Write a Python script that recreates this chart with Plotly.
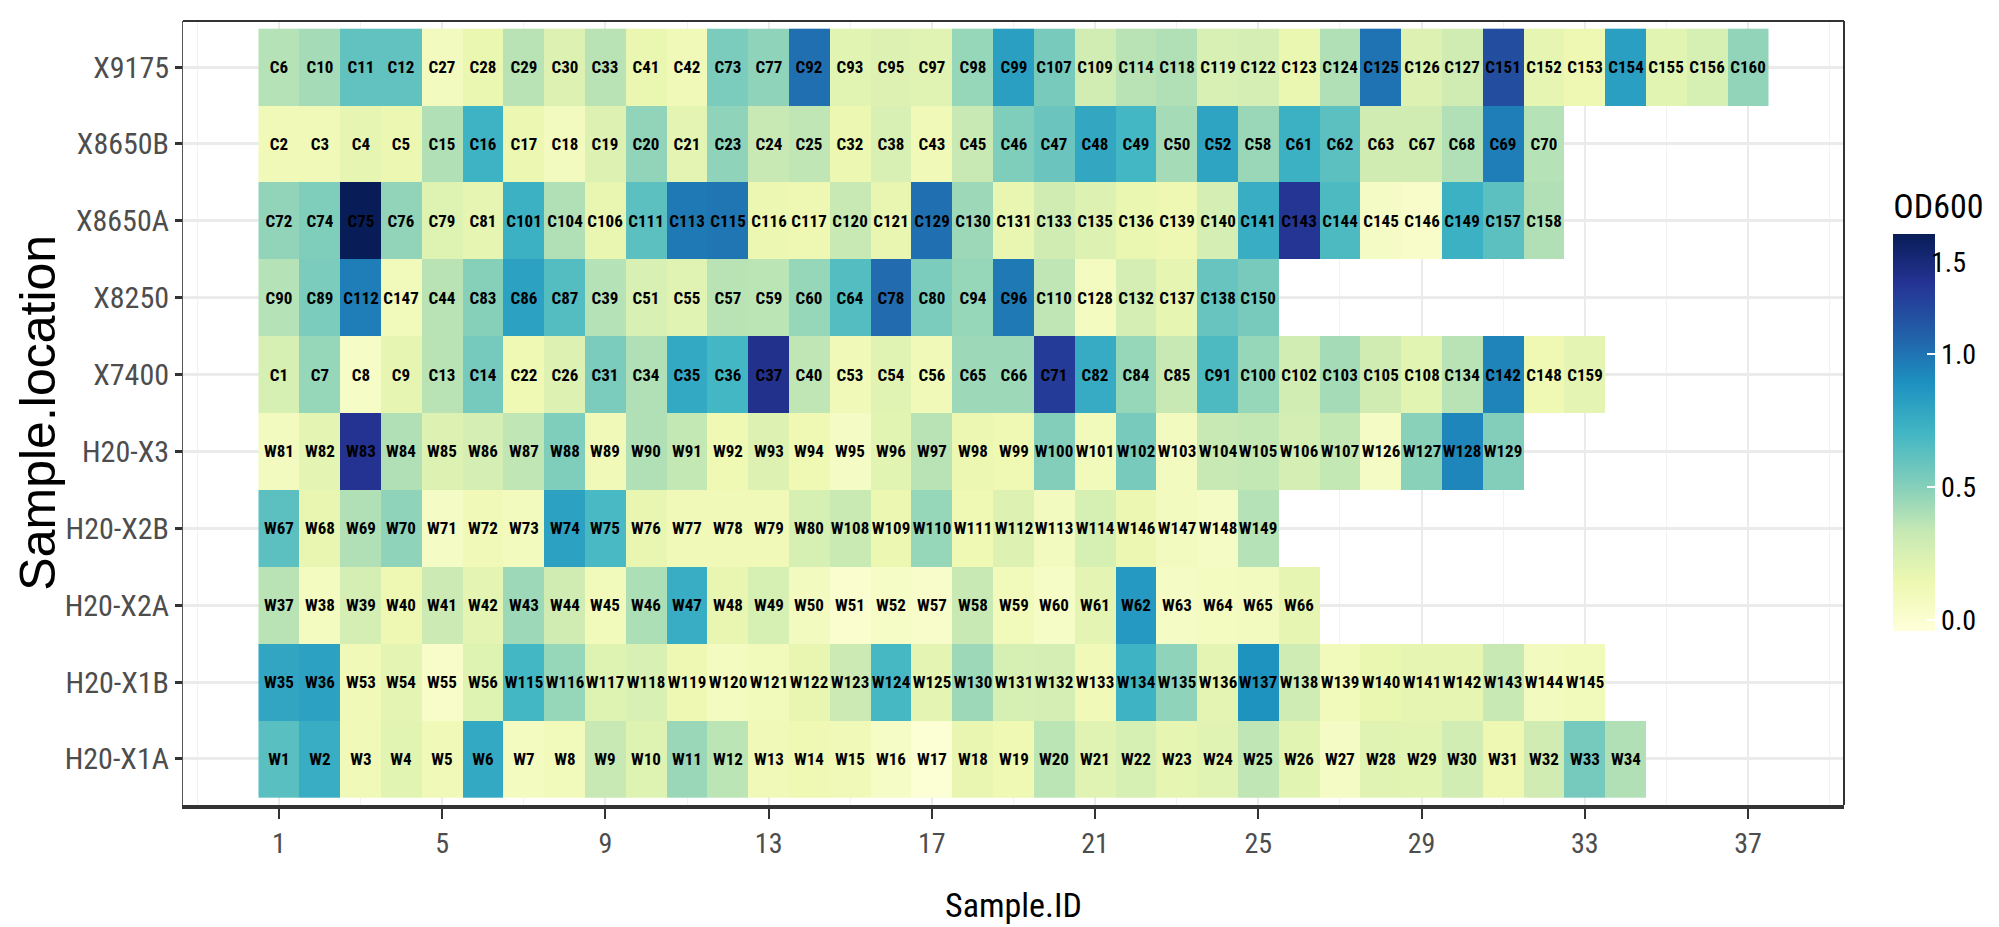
import plotly.graph_objects as go

# ---------------- data ----------------
locations = ["H20-X1A", "H20-X1B", "H20-X2A", "H20-X2B", "H20-X3",
             "X7400", "X8250", "X8650A", "X8650B", "X9175"]

ids_X9175 = ["C6","C10","C11","C12","C27","C28","C29","C30","C33","C41","C42","C73","C77","C92","C93","C95","C97","C98","C99","C107","C109","C114","C118","C119","C122","C123","C124","C125","C126","C127","C151","C152","C153","C154","C155","C156","C160"]
od_X9175 = [0.38,0.42,0.61,0.61,0.08,0.16,0.37,0.23,0.37,0.16,0.11,0.53,0.48,1.01,0.20,0.23,0.21,0.46,0.82,0.54,0.28,0.37,0.39,0.25,0.27,0.16,0.39,1.00,0.23,0.29,1.15,0.18,0.14,0.82,0.20,0.26,0.47]

ids_X8650B = ["C2","C3","C4","C5","C15","C16","C17","C18","C19","C20","C21","C23","C24","C25","C32","C38","C43","C45","C46","C47","C48","C49","C50","C52","C58","C61","C62","C63","C67","C68","C69","C70"]
od_X8650B = [0.12,0.12,0.18,0.15,0.39,0.72,0.15,0.08,0.23,0.47,0.19,0.48,0.33,0.35,0.15,0.25,0.12,0.33,0.52,0.58,0.78,0.70,0.42,0.80,0.45,0.73,0.62,0.29,0.29,0.39,0.96,0.38]

ids_X8650A = ["C72","C74","C75","C76","C79","C81","C101","C104","C106","C111","C113","C115","C116","C117","C120","C121","C129","C130","C131","C133","C135","C136","C139","C140","C141","C143","C144","C145","C146","C149","C157","C158"]
od_X8650A = [0.47,0.52,1.45,0.47,0.22,0.18,0.73,0.39,0.17,0.62,0.98,0.99,0.15,0.14,0.33,0.17,1.01,0.44,0.17,0.29,0.23,0.16,0.14,0.27,0.75,1.26,0.67,0.06,0.04,0.73,0.62,0.39]

ids_X8250 = ["C90","C89","C112","C147","C44","C83","C86","C87","C39","C51","C55","C57","C59","C60","C64","C78","C80","C94","C96","C110","C128","C132","C137","C138","C150"]
od_X8250 = [0.38,0.53,0.96,0.10,0.37,0.50,0.81,0.65,0.38,0.25,0.21,0.37,0.36,0.46,0.65,1.03,0.53,0.46,0.98,0.35,0.07,0.27,0.18,0.59,0.54]

ids_X7400 = ["C1","C7","C8","C9","C13","C14","C22","C26","C31","C34","C35","C36","C37","C40","C53","C54","C56","C65","C66","C71","C82","C84","C85","C91","C100","C102","C103","C105","C108","C134","C142","C148","C159"]
od_X7400 = [0.26,0.46,0.05,0.18,0.37,0.55,0.13,0.23,0.53,0.39,0.77,0.70,1.29,0.35,0.12,0.21,0.12,0.44,0.44,1.23,0.76,0.46,0.33,0.67,0.46,0.28,0.42,0.29,0.20,0.37,0.94,0.13,0.19]

ids_H20_X3 = ["W81","W82","W83","W84","W85","W86","W87","W88","W89","W90","W91","W92","W93","W94","W95","W96","W97","W98","W99","W100","W101","W102","W103","W104","W105","W106","W107","W126","W127","W128","W129"]
od_H20_X3 = [0.08,0.19,1.27,0.39,0.23,0.27,0.35,0.52,0.12,0.39,0.34,0.13,0.23,0.13,0.06,0.20,0.37,0.15,0.13,0.51,0.10,0.54,0.08,0.33,0.34,0.27,0.34,0.06,0.49,0.93,0.51]

ids_H20_X2B = ["W67","W68","W69","W70","W71","W72","W73","W74","W75","W76","W77","W78","W79","W80","W108","W109","W110","W111","W112","W113","W114","W146","W147","W148","W149"]
od_H20_X2B = [0.62,0.17,0.39,0.48,0.06,0.12,0.09,0.81,0.68,0.17,0.12,0.12,0.12,0.26,0.32,0.15,0.46,0.13,0.23,0.08,0.26,0.15,0.08,0.06,0.38]

ids_H20_X2A = ["W37","W38","W39","W40","W41","W42","W43","W44","W45","W46","W47","W48","W49","W50","W51","W52","W57","W58","W59","W60","W61","W62","W63","W64","W65","W66"]
od_H20_X2A = [0.37,0.07,0.27,0.14,0.31,0.19,0.44,0.29,0.10,0.40,0.75,0.17,0.26,0.08,0.01,0.05,0.03,0.33,0.10,0.05,0.19,0.85,0.06,0.07,0.08,0.18]

ids_H20_X1B = ["W35","W36","W53","W54","W55","W56","W115","W116","W117","W118","W119","W120","W121","W122","W123","W124","W125","W130","W131","W132","W133","W134","W135","W136","W137","W138","W139","W140","W141","W142","W143","W144","W145"]
od_H20_X1B = [0.79,0.81,0.12,0.19,0.04,0.22,0.70,0.46,0.22,0.25,0.14,0.07,0.10,0.17,0.31,0.69,0.19,0.44,0.26,0.27,0.11,0.72,0.48,0.19,0.88,0.30,0.10,0.16,0.18,0.18,0.33,0.08,0.10]

ids_H20_X1A = ["W1","W2","W3","W4","W5","W6","W7","W8","W9","W10","W11","W12","W13","W14","W15","W16","W17","W18","W19","W20","W21","W22","W23","W24","W25","W26","W27","W28","W29","W30","W31","W32","W33","W34"]
od_H20_X1A = [0.63,0.75,0.12,0.20,0.11,0.77,0.07,0.10,0.33,0.22,0.45,0.36,0.12,0.13,0.11,0.05,-0.01,0.17,0.13,0.36,0.21,0.26,0.18,0.21,0.35,0.20,0.06,0.21,0.20,0.28,0.14,0.29,0.55,0.39]

x_breaks = [1, 5, 9, 13, 17, 21, 25, 29, 33, 37]
cbar_ticks = [0.0, 0.5, 1.0]
cbar_labels = ["0.0", "0.5", "1.0"]
od_limits = [-0.04, 1.45]

rows = {
    "H20-X1A": (ids_H20_X1A, od_H20_X1A),
    "H20-X1B": (ids_H20_X1B, od_H20_X1B),
    "H20-X2A": (ids_H20_X2A, od_H20_X2A),
    "H20-X2B": (ids_H20_X2B, od_H20_X2B),
    "H20-X3": (ids_H20_X3, od_H20_X3),
    "X7400": (ids_X7400, od_X7400),
    "X8250": (ids_X8250, od_X8250),
    "X8650A": (ids_X8650A, od_X8650A),
    "X8650B": (ids_X8650B, od_X8650B),
    "X9175": (ids_X9175, od_X9175),
}

ncol = max(len(v[0]) for v in rows.values())
xs = list(range(1, ncol + 1))
Z, T = [], []
for loc in locations:
    ids, od = rows[loc]
    Z.append(list(od) + [None] * (ncol - len(od)))
    T.append(list(ids) + [""] * (ncol - len(ids)))

ylgnbu = ["#ffffd9", "#edf8b1", "#c7e9b4", "#7fcdbb", "#41b6c4",
          "#1d91c0", "#225ea8", "#253494", "#081d58"]
cscale = [[i / 8, c] for i, c in enumerate(ylgnbu)]

NARROW = "Liberation Sans Narrow, Roboto Condensed, DejaVu Sans Condensed, Liberation Sans, Arial, sans-serif"
REG = "Liberation Sans, Arial, Helvetica, sans-serif"

W, H = 1999, 927
L, R, TM, B = 175, 133, 13, 130
pw, ph = W - L - R, H - TM - B

cb_top, cb_bot = 181, 623

fig = go.Figure()
fig.add_trace(go.Heatmap(
    x=xs, y=locations, z=Z, text=T,
    texttemplate="%{text}",
    textfont=dict(family=NARROW, size=17, color="black", weight="bold"),
    colorscale=cscale, zmin=od_limits[0], zmax=od_limits[1],
    xgap=0, ygap=0, hoverinfo="skip",
    colorbar=dict(
        title=dict(text="OD600", side="top", font=dict(family=NARROW, size=34, color="black")),
        x=(1906 - L) / pw, xanchor="left",
        y=(H - B - (cb_top + cb_bot) / 2) / ph, yanchor="middle",
        len=(cb_bot - cb_top) / ph, lenmode="fraction",
        thickness=42, thicknessmode="pixels",
        outlinewidth=0, ypad=0,
        tickvals=cbar_ticks, ticktext=cbar_labels,
        ticks="inside", ticklen=8, tickcolor="white", tickwidth=1.5,
        tickfont=dict(family=NARROW, size=28, color="black"),
        ticklabelposition="outside",
    ),
))

fig.update_layout(
    width=W, height=H,
    margin=dict(l=L, r=R, t=TM, b=B),
    plot_bgcolor="white", paper_bgcolor="white",
    xaxis=dict(
        range=[-1.35, 39.35], tickvals=x_breaks, ticktext=[str(v) for v in x_breaks],
        showgrid=True, gridcolor="#ebebeb", gridwidth=1.5,
        minor=dict(tickvals=[b - 2 for b in x_breaks] + [39], showgrid=True,
                   gridcolor="#f2f2f2", gridwidth=1, ticks=""),
        zeroline=False,
        showline=True, linecolor="#333333", linewidth=4,
        ticks="outside", ticklen=10, tickwidth=2, tickcolor="#333333",
        tickfont=dict(family=NARROW, size=28, color="#4d4d4d"),
    ),
    yaxis=dict(
        type="category", categoryorder="array", categoryarray=locations,
        range=[-0.6, 9.6],
        showgrid=True, gridcolor="#ebebeb", gridwidth=3,
        zeroline=False,
        showline=True, linecolor="#555555", linewidth=1,
        ticks="outside", ticklen=7, tickwidth=3, tickcolor="#333333",
        tickfont=dict(family=NARROW, size=30, color="#4d4d4d"),
    ),
    shapes=[
        dict(type="line", xref="paper", yref="paper", x0=0, x1=1, y0=1, y1=1,
             line=dict(color="#333333", width=2)),
        dict(type="line", xref="paper", yref="paper", x0=1, x1=1, y0=0, y1=1,
             line=dict(color="#333333", width=2)),
    ],
    annotations=[
        dict(text="Sample.ID", xref="paper", yref="paper",
             x=0.5, y=(H - B - 897) / ph, xanchor="center", yanchor="middle",
             showarrow=False, font=dict(family=NARROW, size=34, color="black")),
        dict(text="Sample.location", xref="paper", yref="paper",
             x=(27 - L) / pw, y=0.5, xanchor="center", yanchor="middle", textangle=-90,
             showarrow=False, font=dict(family=REG, size=50, color="black")),
        dict(text="1.5", xref="paper", yref="paper",
             x=(1953 - L) / pw, y=(H - B - 254) / ph, xanchor="left", yanchor="middle",
             showarrow=False, font=dict(family=NARROW, size=28, color="black")),
    ],
)

fig.write_html("out.html")
